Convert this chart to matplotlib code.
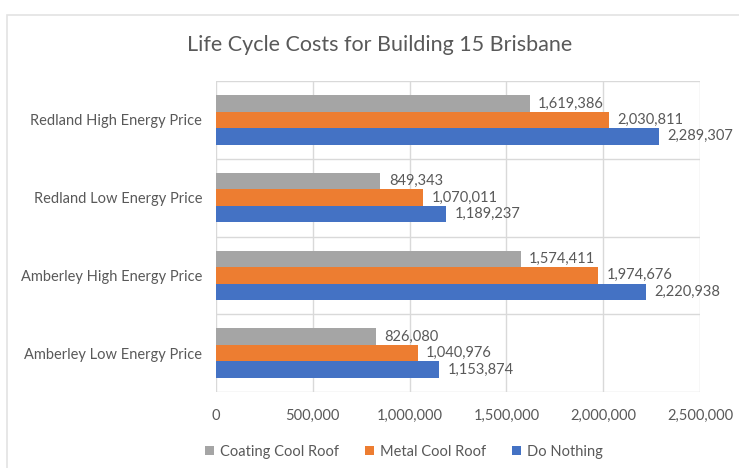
import matplotlib
matplotlib.use("Agg")
import matplotlib.pyplot as plt
from matplotlib.patches import Rectangle
from matplotlib.ticker import FuncFormatter
import numpy as np

plt.rcParams["font.family"] = ["Lato", "DejaVu Sans"]

categories = [
    "Amberley Low Energy Price",
    "Amberley High Energy Price",
    "Redland Low Energy Price",
    "Redland High Energy Price",
]
coating_cool_roof = [826080, 1574411, 849343, 1619386]
metal_cool_roof = [1040976, 1974676, 1070011, 2030811]
do_nothing = [1153874, 2220938, 1189237, 2289307]

series = [
    ("Coating Cool Roof", coating_cool_roof, "#A5A5A5"),
    ("Metal Cool Roof", metal_cool_roof, "#ED7D31"),
    ("Do Nothing", do_nothing, "#4472C4"),
]

text_col = "#595959"
grid_col = "#D9D9D9"

fig = plt.figure(figsize=(7.39, 4.68), dpi=100)
ax = fig.add_axes([0.2923, 0.1624, 0.6549, 0.6645])

# outer chart frame
fig.patches.append(Rectangle((0.0095, -0.1), 1.2, 1.068, transform=fig.transFigure,
                             fill=False, edgecolor="#E3E3E3", linewidth=1.2))

y = np.arange(len(categories))
h = 0.212
offsets = [h, 0, -h]
for (name, vals, col), off in zip(series, offsets):
    bars = ax.barh(y + off, vals, height=h, color=col, label=name, zorder=3)
    ax.bar_label(bars, labels=[f"{v:,}" for v in vals], padding=6,
                 fontsize=10.5, color=text_col)

ax.set_xlim(0, 2500000)
ax.set_ylim(-0.5, len(categories) - 0.5)
ax.set_xticks(np.arange(0, 2500001, 500000))
ax.xaxis.set_major_formatter(FuncFormatter(lambda v, p: f"{v:,.0f}"))
ax.set_yticks(y)
ax.set_yticklabels(categories)
ax.set_yticks(np.arange(-0.5, len(categories)), minor=True)

ax.tick_params(axis="both", length=0, labelsize=10.5, colors=text_col)
ax.tick_params(axis="x", pad=12)
ax.tick_params(axis="y", pad=10)
ax.tick_params(which="minor", length=0)
ax.grid(axis="x", which="major", color=grid_col, linewidth=1, zorder=0)
ax.grid(axis="y", which="minor", color=grid_col, linewidth=1, zorder=0)
for s in ax.spines.values():
    s.set_visible(False)

fig.text(0.514, 0.903, "Life Cycle Costs for Building 15 Brisbane",
         ha="center", va="center", fontsize=15.5, color=text_col)

ax.legend(loc="center", bbox_to_anchor=(0.5465, 0.035), bbox_transform=fig.transFigure,
          ncol=3, frameon=False, fontsize=10.5, labelcolor=text_col,
          handlelength=0.6, handleheight=0.6, handletextpad=0.4, columnspacing=1.8)

fig.savefig("out.png", dpi=100)
